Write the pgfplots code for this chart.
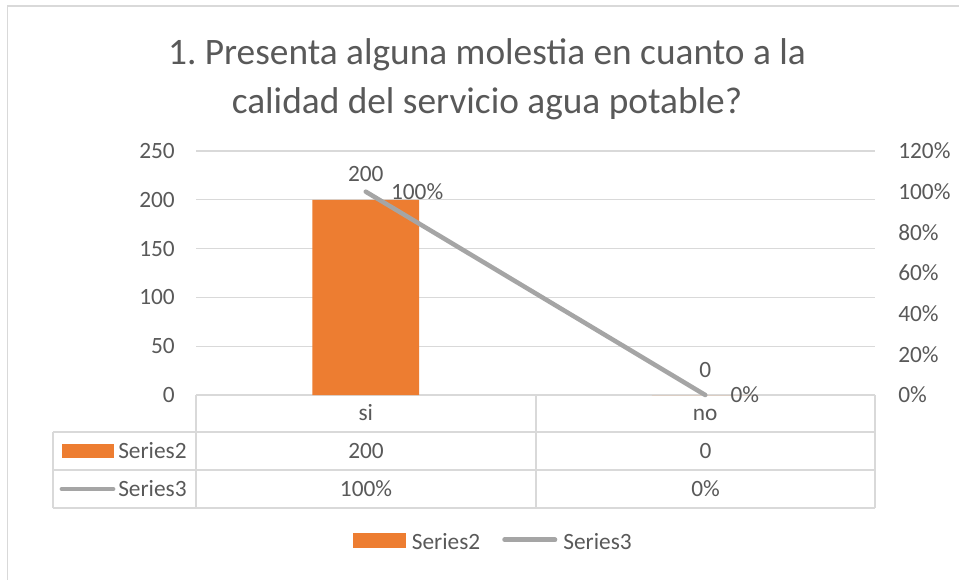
\documentclass[border=0pt]{standalone}
\usepackage{pgfplots}
\pgfplotsset{compat=1.18}
\usepackage{fontspec}
\setmainfont{Carlito}
\definecolor{txt}{HTML}{595959}
\definecolor{gridc}{HTML}{D9D9D9}
\definecolor{orng}{HTML}{ED7D31}
\definecolor{gry}{HTML}{A5A5A5}
\pgfplotsset{/pgf/number format/assume math mode=true}
\newcommand\lbl{\fontsize{17.5}{21}\selectfont}
\frenchspacing
\begin{document}
\begin{tikzpicture}[x=0.75pt,y=-0.75pt,font=\lbl,text=txt]
\useasboundingbox (0,0) rectangle (959,579);
\fill[white] (0,0) rectangle (959,579);
\draw[gridc,line width=1.2pt] (7.5,590) -- (7.5,6) -- (970,6);
% title
\node[anchor=base,font=\fontsize{28}{33}\selectfont,text=txt] at (487,64) {1.\ Presenta alguna molestia en cuanto a la};
\node[anchor=base,font=\fontsize{28}{33}\selectfont,text=txt] at (487,113) {calidad del servicio agua potable?};
% primary axis
\begin{axis}[
  at={(147pt,-296.25pt)}, anchor=south west,
  scale only axis, width=509.25pt, height=183pt,
  xmin=-0.5, xmax=1.5, ymin=0, ymax=250,
  ytick={0,50,100,150,200,250},
  xtick={0,1}, xticklabels={si,no},
  ymajorgrids, grid style={gridc,line width=0.9pt},
  axis line style={draw=none},
  major tick length=0pt,
  tick label style={font=\lbl,text=txt},
  yticklabel style={anchor=east,inner sep=0pt,xshift=-15.75pt},
  xticklabel style={anchor=base,inner sep=0pt,yshift=-18.75pt},
  clip=false,
]
\addplot[ybar,bar width=80pt,fill=orng,draw=none,
  nodes near coords,
  every node near coord/.append style={anchor=base,inner sep=0pt,yshift=13.5pt,text=txt,font=\lbl}]
  coordinates {(0,200) (1,0)};
\end{axis}
% secondary axis
\begin{axis}[
  at={(147pt,-296.25pt)}, anchor=south west,
  scale only axis, width=509.25pt, height=183pt,
  xmin=-0.5, xmax=1.5, ymin=0, ymax=1.2,
  hide x axis,
  axis y line*=right, axis line style={draw=none},
  major tick length=0pt,
  ytick={0,0.2,0.4,0.6,0.8,1,1.2},
  yticklabel={\pgfmathparse{\tick*100}\pgfmathprintnumber[fixed,precision=0]{\pgfmathresult}\%},
  tick label style={font=\lbl,text=txt},
  yticklabel style={anchor=west,inner sep=0pt,xshift=17.25pt},
  clip=false,
  legend style={at={(0.4367,-0.6025)},anchor=center,draw=none,fill=none,
    legend columns=2,font=\lbl,text=txt,
    nodes={inner sep=0pt},
    /tikz/every even column/.append style={column sep=16.5pt},
    /tikz/every odd column/.append style={column sep=4.5pt}},
]
\addlegendimage{legend image code/.code={\fill[orng] (0pt,-3.4pt) rectangle (39pt,7.1pt);}}
\addlegendentry{Series2}
\addplot[gry,line width=3.4pt,line cap=round,
  legend image code/.code={\draw[gry,line width=3.6pt,line cap=round] (1.8pt,1.9pt) -- (39.5pt,1.9pt);},
  nodes near coords, point meta=explicit symbolic,
  every node near coord/.append style={anchor=west,inner sep=0pt,xshift=17.25pt,text=txt,font=\lbl}]
  coordinates {(0,1) [100\%] (1,0) [0\%]};
\addlegendentry{Series3}
\end{axis}
% data table
\begin{scope}[gridc,line width=1.2pt]
\draw (196,395) -- (196,508);
\draw (536,395) -- (536,508);
\draw (875,395) -- (875,508);
\draw (53,432) -- (875,432);
\draw (53,470) -- (875,470);
\draw (53,508) -- (875,508);
\draw (53,432) -- (53,508);
\end{scope}
\fill[orng] (62,444) rectangle (114,458);
\draw[gry,line width=3.6pt,line cap=round] (62,489) -- (113,489);
\node[anchor=base west,inner sep=0pt] at (118,458) {Series2};
\node[anchor=base west,inner sep=0pt] at (118,496) {Series3};
\node[anchor=base] at (366,458) {200};
\node[anchor=base] at (705.5,458) {0};
\node[anchor=base] at (366,496) {100\%};
\node[anchor=base] at (705.5,496) {0\%};
\end{tikzpicture}
\end{document}
